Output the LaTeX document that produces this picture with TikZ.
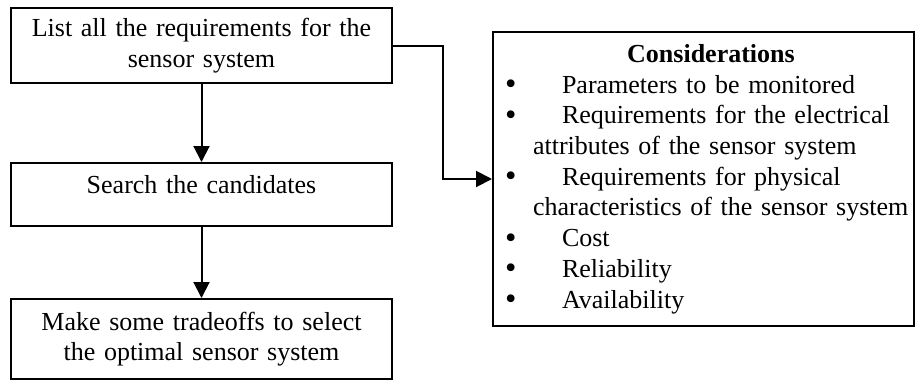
\documentclass[tikz,border=0pt]{standalone}
\usepackage{graphicx}
\usepackage{fontspec}
\setmainfont{Liberation Serif}
\usetikzlibrary{positioning}
\usetikzlibrary{arrows.meta}

\newcommand{\consitem}[1]{\makebox[34.5pt][l]{\hspace{6pt}\raisebox{-0.8pt}{\scalebox{1.25}{\textbullet}}}\mbox{#1}}
\newcommand{\consmore}[1]{\hspace*{20pt}\mbox{#1}}

\begin{document}
\begin{tikzpicture}[x=0.5pt, y=-0.5pt,
		every node/.style={font=\fontsize{13}{15.35}\selectfont},
		stepbox/.style={draw, line width=1pt, inner xsep=0pt, inner ysep=0pt, text width=190.5pt, align=center},
		consbox/.style={draw, line width=1pt, inner xsep=0pt, inner ysep=6pt, text width=210.5pt, align=left},
		flow/.style={line width=1pt, -{Triangle[length=8pt, width=8pt]}}]
				\useasboundingbox (0,0) rectangle (915,381);
				
				\node[stepbox, minimum height=37.5pt] (req) at (201.5,45.5) {List all the requirements for the\\sensor system};
				\node[stepbox, minimum height=31.5pt, text depth=10.5pt] (search) at (201.5,194.5) {Search the candidates};
				\node[stepbox, minimum height=40pt] (trade) at (201.5,339) {Make some tradeoffs to select\\the optimal sensor system};
				
				\node[consbox] (cons) at (703.5,179) {\makebox[\linewidth]{\hspace{7.5pt}\textbf{Considerations}}\\
					\consitem{Parameters to be monitored}\\
					\consitem{Requirements for the electrical}\\
					\consmore{attributes of the sensor system}\\
					\consitem{Requirements for physical}\\
					\consmore{characteristics of the sensor system}\\
					\consitem{Cost}\\
					\consitem{Reliability}\\
					\consitem{Availability}};
				
				\coordinate (bend) at (443,45.5);
				
				\draw[flow] (req) -- (search);
				\draw[flow] (search) -- (trade);
				\draw[flow] (req.east) -- (bend) |- (cons.west);
			\end{tikzpicture}
\end{document}
